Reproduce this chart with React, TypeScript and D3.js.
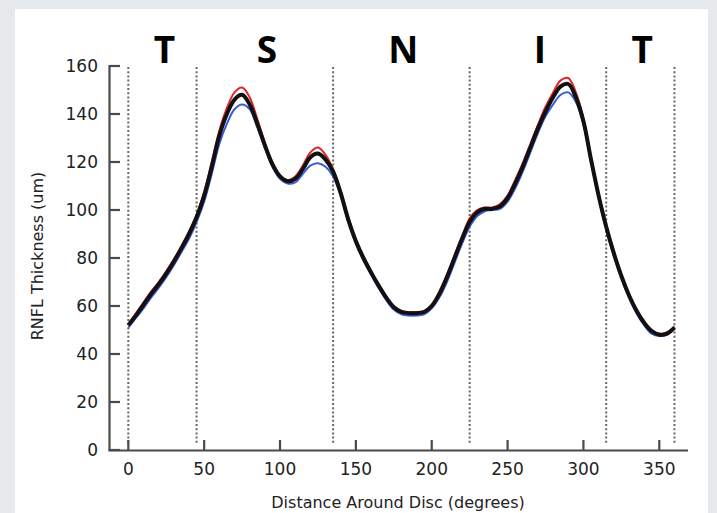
import React from "react";
import * as d3 from "d3";

const W = 717;
const H = 513;

const degrees = [0,5,10,15,20,25,30,35,40,45,50,55,60,65,70,75,80,85,90,95,100,105,110,115,120,125,130,135,140,145,150,155,160,165,170,175,180,185,190,195,200,205,210,215,220,225,230,235,240,245,250,255,260,265,270,275,280,285,290,295,300,305,310,315,320,325,330,335,340,345,350,355,360];

const blackSeries = [52,56,60.5,65,69,73.5,78.5,84,90,97,106,118,131,140,146,148,144,136,127,119,114,112,113,117,122,123.5,121,116,107,96,87,80,74,68.5,63.5,59.5,57.5,57,57,57.5,60,65,72,80,88,95,99,100.5,100.5,101.5,105,111,118,126,134,141,147,151.5,152.5,147,137,121,106,93,82,72.5,64.5,58,53,49.5,48,48.5,51];

const redSeries = [52.5,57,61.5,66,70,74.5,79.5,85,91,98,107.5,120,133,142.5,149,151,147,138,128,120,114.5,112.5,114,118.5,124,126,123,117,108,97,88,80.5,74.5,69,64,60,58,57.5,57.5,58,60.5,66,73,81,89,96.5,100,101,101,102.5,106,112.5,119.5,127.5,135.5,143,149,154,155,149,138,122,107,94,83,73,65,58.5,53.5,50,48.5,49,51.5];

const blueSeries = [51,55,59,63.5,67.5,72,77,82.5,88,95,103.5,115,127.5,136,142,144,142,134.5,126,118,113,111,111.5,115,118.5,119.5,118,114,106,95,86,79,73,67.5,62.5,58.5,56.5,56,56,56.5,59,63.5,70,78,86,93,97.5,99.5,100,100.5,103.5,109,116,124,132,139,144,148,149,145,135.5,120,105,92,81,71.5,63.5,57,52,48.5,47.5,48,50.5];

const xTicks = [0,50,100,150,200,250,300,350];
const yTicks = [0,20,40,60,80,100,120,140,160];
const boundaries = [0,45,135,225,315,360];
const sectorLabels = ["T","S","N","I","T"];
const sectorCenters = [22.5,90,180,270,337.5];

export default function App() {
  const x = d3.scaleLinear().domain([0, 350]).range([128.3, 659.3]);
  const y = d3.scaleLinear().domain([0, 160]).range([450, 66]);

  const mk = (vals: number[]) =>
    d3
      .line<number>()
      .x((_, i) => x(degrees[i]))
      .y((v) => y(v))
      .curve(d3.curveCatmullRom.alpha(0.5))(vals) || "";

  const axisColor = "#4a4a4a";
  const textColor = "#222";
  const font = "'DejaVu Sans', sans-serif";

  return (
    <svg
      width={W}
      height={H}
      style={{ position: "absolute", left: 0, top: 0 }}
      xmlns="http://www.w3.org/2000/svg"
    >
      <rect x={0} y={0} width={W} height={H} fill="#e6e9ec" />
      <rect x={15} y={9} width={693} height={H - 9} fill="#ffffff" />

      {/* dotted sector boundaries */}
      {boundaries.map((b, i) => (
        <line
          key={"b" + i}
          x1={x(b)}
          x2={x(b)}
          y1={67}
          y2={445}
          stroke="#666"
          strokeWidth={2}
          strokeDasharray="2,2.2"
        />
      ))}

      {/* sector letters */}
      {sectorLabels.map((s, i) => (
        <text
          key={"s" + i}
          x={x(sectorCenters[i]) + 2}
          y={63}
          textAnchor="middle"
          fontFamily="'Open Sans', sans-serif"
          fontWeight={700}
          fontSize={37}
          fill="#000"
        >
          {s}
        </text>
      ))}

      {/* axes */}
      <line x1={109.5} x2={109.5} y1={y(160) - 1} y2={451} stroke={axisColor} strokeWidth={2.2} />
      <line x1={108.5} x2={688} y1={450.5} y2={450.5} stroke={axisColor} strokeWidth={2.2} />
      {yTicks.map((t) => (
        <g key={"yt" + t}>
          <line x1={109.5} x2={120} y1={y(t)} y2={y(t)} stroke={axisColor} strokeWidth={2.2} />
          <text
            x={98}
            y={y(t)}
            dy="0.36em"
            textAnchor="end"
            fontFamily={font}
            fontSize={17}
            fill={textColor}
          >
            {t}
          </text>
        </g>
      ))}
      {xTicks.map((t) => (
        <g key={"xt" + t}>
          <line x1={x(t)} x2={x(t)} y1={450.5} y2={440} stroke={axisColor} strokeWidth={2.2} />
          <text
            x={x(t)}
            y={475}
            textAnchor="middle"
            fontFamily={font}
            fontSize={17}
            fill={textColor}
          >
            {t}
          </text>
        </g>
      ))}

      {/* axis titles */}
      <text
        x={398}
        y={508}
        textAnchor="middle"
        fontFamily={font}
        fontSize={16}
        fill={textColor}
      >
        Distance Around Disc (degrees)
      </text>
      <text
        transform={`translate(43,256) rotate(-90)`}
        textAnchor="middle"
        fontFamily={font}
        fontSize={16}
        fill={textColor}
      >
        RNFL Thickness (um)
      </text>

      {/* curves */}
      <path d={mk(blueSeries)} fill="none" stroke="#3b5bd9" strokeWidth={2} />
      <path d={mk(redSeries)} fill="none" stroke="#e0252a" strokeWidth={2} />
      <path d={mk(blackSeries)} fill="none" stroke="#111" strokeWidth={4} />
    </svg>
  );
}
